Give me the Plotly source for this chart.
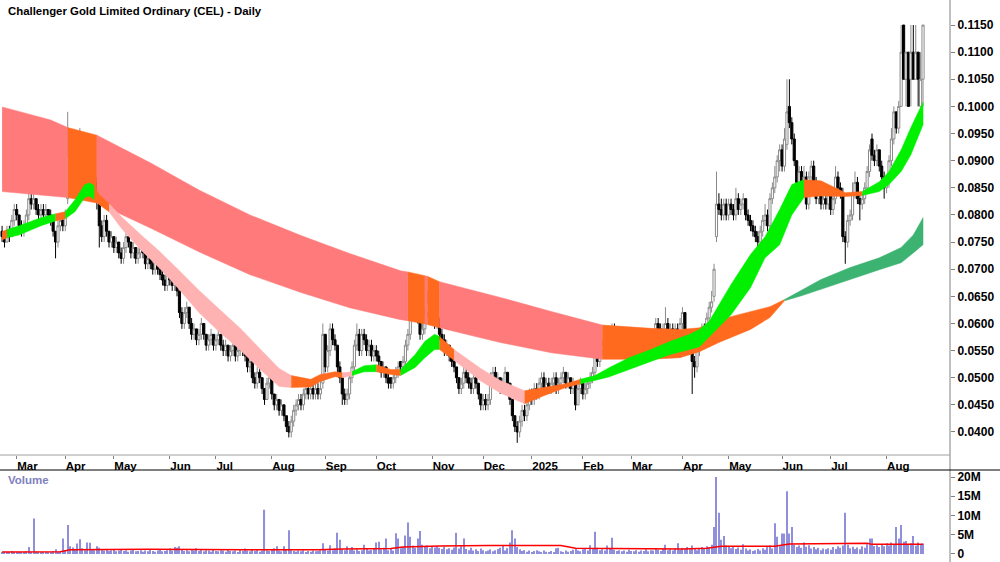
import pandas as pd
import plotly.graph_objects as go

TITLE = "Challenger Gold Limited Ordinary (CEL) - Daily"
FIRST_DAY = "2024-02-22"
LAST_DAY = "2025-08-22"
ASX_HOLIDAYS = ["2024-03-29", "2024-04-01", "2024-04-25", "2024-06-10", "2024-12-25",
                "2024-12-26", "2025-01-01", "2025-01-27", "2025-04-18", "2025-04-21",
                "2025-04-25", "2025-06-09"]

opens = [
    .077, .076, .075, .077, .076, .079, .081, .080, .078, .077,
    .078, .080, .083, .082, .083, .081, .080, .081, .080, .081,
    .080, .079, .077, .075, .078, .079, .078, .083, .091, .088,
    .092, .090, .093, .094, .091, .093, .087, .088, .085, .086,
    .082, .078, .076, .079, .077, .075, .076, .074, .075, .073,
    .072, .074, .076, .075, .073, .074, .072, .073, .075, .073,
    .071, .072, .071, .070, .072, .070, .069, .068, .067, .069,
    .068, .067, .068, .066, .062, .060, .062, .063, .060, .058,
    .059, .057, .058, .060, .058, .056, .057, .058, .056, .057,
    .058, .056, .055, .056, .054, .055, .056, .054, .055, .057,
    .055, .054, .052, .053, .050, .049, .051, .050, .048, .046,
    .049, .050, .047, .045, .046, .044, .045, .043, .041, .040,
    .042, .044, .045, .046, .045, .047, .048, .047, .048, .047,
    .048, .047, .049, .058, .052, .055, .059, .057, .056, .052,
    .050, .047, .046, .047, .050, .052, .056, .058, .055, .058,
    .057, .055, .056, .054, .055, .054, .053, .051, .052, .050,
    .050, .049, .050, .051, .053, .052, .053, .056, .058, .064,
    .062, .065, .061, .058, .059, .062, .064, .065, .061, .060,
    .061, .058, .057, .055, .056, .054, .053, .052, .050, .048,
    .049, .051, .050, .049, .048, .050, .049, .047, .045, .046,
    .045, .046, .050, .051, .049, .050, .048, .049, .051, .049,
    .046, .043, .041, .040, .042, .044, .043, .045, .047, .046,
    .048, .047, .049, .050, .048, .049, .048, .049, .050, .048,
    .049, .050, .051, .049, .050, .048, .049, .045, .048, .049,
    .047, .048, .049, .050, .051, .054, .053, .055, .056, .055,
    .057, .058, .059, .058, .056, .058, .057, .055, .056, .055,
    .057, .056, .055, .056, .054, .055, .054, .056, .055, .058,
    .060, .059, .057, .059, .060, .058, .059, .058, .059, .058,
    .060, .062, .057, .056, .057, .053, .052, .055, .057, .059,
    .058, .061, .063, .065, .076, .082, .081, .080, .082, .080,
    .082, .081, .080, .083, .081, .082, .083, .080, .079, .078,
    .077, .076, .075, .077, .079, .080, .078, .083, .085, .087,
    .090, .092, .089, .093, .100, .097, .094, .090, .086, .088,
    .085, .087, .082, .087, .089, .086, .083, .084, .082, .083,
    .082, .084, .081, .083, .087, .085, .084, .076, .075, .079,
    .080, .084, .086, .083, .082, .083, .085, .088, .094, .091,
    .090, .092, .089, .087, .085, .086, .090, .094, .099, .096,
    .100, .115, .105, .110, .105, .110, .105, .110, .100, .105,
]

highs = [
    .078, .077, .078, .078, .080, .082, .082, .080, .079, .079,
    .081, .084, .084, .084, .083, .082, .082, .082, .082, .081,
    .081, .079, .077, .079, .080, .080, .081, .099, .093, .094,
    .093, .095, .096, .095, .095, .094, .090, .089, .088, .087,
    .082, .079, .080, .080, .077, .077, .076, .076, .075, .074,
    .075, .077, .076, .075, .075, .074, .074, .076, .075, .073,
    .073, .073, .072, .073, .072, .071, .070, .069, .070, .069,
    .069, .069, .068, .066, .063, .063, .064, .063, .061, .060,
    .059, .059, .061, .060, .058, .058, .059, .058, .058, .059,
    .058, .057, .057, .056, .056, .057, .056, .056, .058, .057,
    .056, .054, .054, .053, .051, .052, .052, .050, .048, .050,
    .051, .050, .047, .047, .046, .046, .045, .043, .042, .043,
    .045, .046, .047, .047, .048, .049, .049, .049, .049, .049,
    .049, .050, .060, .058, .056, .060, .060, .058, .056, .053,
    .050, .048, .048, .051, .053, .057, .060, .059, .059, .059,
    .058, .057, .057, .056, .056, .055, .053, .053, .052, .051,
    .050, .051, .052, .053, .053, .054, .057, .059, .066, .065,
    .067, .066, .062, .061, .063, .066, .067, .066, .062, .062,
    .061, .059, .058, .057, .056, .055, .054, .052, .050, .050,
    .052, .052, .051, .050, .051, .051, .049, .047, .047, .047,
    .047, .051, .052, .052, .051, .050, .050, .052, .051, .049,
    .046, .043, .042, .043, .045, .045, .046, .048, .048, .049,
    .049, .050, .051, .051, .050, .050, .050, .051, .051, .050,
    .051, .052, .051, .051, .050, .050, .049, .049, .050, .049,
    .049, .050, .051, .052, .055, .055, .056, .057, .057, .058,
    .059, .060, .060, .058, .059, .059, .057, .057, .057, .058,
    .058, .057, .057, .056, .056, .056, .057, .057, .059, .061,
    .061, .060, .060, .063, .061, .060, .060, .060, .060, .061,
    .063, .062, .058, .058, .057, .054, .056, .058, .060, .060,
    .062, .064, .066, .071, .088, .084, .083, .083, .083, .083,
    .083, .082, .085, .084, .083, .084, .083, .081, .080, .079,
    .078, .077, .078, .080, .082, .081, .084, .086, .089, .091,
    .093, .093, .096, .105, .105, .098, .095, .090, .089, .089,
    .089, .088, .088, .090, .090, .087, .085, .085, .084, .084,
    .085, .084, .084, .089, .088, .086, .085, .077, .080, .081,
    .086, .088, .087, .084, .084, .086, .089, .093, .095, .092,
    .093, .092, .090, .088, .087, .091, .096, .100, .099, .101,
    .115, .115, .110, .110, .115, .115, .115, .110, .110, .115,
]

lows = [
    .075, .074, .075, .075, .076, .078, .079, .077, .076, .076,
    .077, .079, .081, .081, .080, .079, .079, .079, .079, .079,
    .078, .076, .072, .074, .077, .077, .077, .082, .086, .087,
    .089, .089, .091, .090, .089, .085, .085, .084, .083, .081,
    .074, .075, .075, .076, .074, .074, .073, .073, .072, .071,
    .071, .073, .074, .072, .072, .071, .071, .072, .072, .070,
    .070, .070, .069, .069, .069, .068, .067, .066, .066, .067,
    .066, .066, .065, .061, .059, .059, .061, .059, .057, .057,
    .056, .056, .057, .057, .055, .055, .056, .055, .055, .056,
    .055, .054, .054, .053, .053, .054, .053, .053, .054, .054,
    .053, .051, .051, .049, .048, .048, .049, .047, .045, .046,
    .048, .046, .044, .044, .043, .043, .042, .040, .039, .039,
    .041, .043, .044, .044, .044, .046, .046, .046, .046, .046,
    .046, .046, .048, .051, .051, .054, .056, .055, .051, .049,
    .045, .045, .045, .046, .049, .051, .055, .054, .054, .056,
    .054, .054, .053, .053, .053, .052, .050, .050, .049, .048,
    .048, .048, .049, .050, .051, .051, .052, .055, .057, .061,
    .061, .060, .057, .057, .058, .061, .063, .060, .059, .059,
    .057, .056, .054, .054, .053, .052, .051, .049, .047, .047,
    .048, .049, .048, .047, .047, .048, .046, .044, .044, .044,
    .044, .045, .049, .048, .048, .047, .047, .048, .048, .045,
    .042, .040, .038, .039, .041, .042, .042, .044, .045, .045,
    .046, .046, .048, .047, .047, .047, .047, .048, .047, .047,
    .048, .049, .048, .048, .047, .047, .044, .045, .047, .046,
    .046, .047, .048, .049, .050, .052, .052, .054, .054, .054,
    .056, .057, .057, .055, .055, .056, .054, .054, .054, .054,
    .055, .054, .054, .053, .053, .053, .053, .054, .054, .057,
    .058, .056, .056, .058, .057, .057, .057, .057, .057, .057,
    .059, .056, .055, .055, .047, .050, .051, .054, .056, .057,
    .058, .060, .062, .064, .075, .080, .079, .079, .079, .079,
    .080, .079, .079, .080, .080, .081, .079, .078, .077, .076,
    .075, .073, .074, .076, .078, .077, .077, .082, .084, .086,
    .088, .088, .088, .092, .096, .093, .089, .085, .085, .084,
    .084, .081, .081, .086, .085, .082, .082, .081, .081, .081,
    .081, .080, .080, .082, .084, .083, .075, .071, .074, .078,
    .079, .083, .082, .079, .081, .082, .084, .087, .090, .089,
    .089, .088, .086, .083, .084, .085, .089, .093, .095, .095,
    .100, .105, .100, .100, .100, .105, .105, .100, .100, .100,
]

closes = [
    .076, .075, .077, .076, .079, .081, .080, .078, .077, .078,
    .080, .083, .082, .083, .081, .080, .081, .080, .081, .080,
    .079, .077, .075, .078, .079, .078, .080, .091, .088, .092,
    .090, .093, .094, .091, .093, .087, .088, .085, .086, .083,
    .078, .076, .079, .077, .075, .076, .074, .075, .073, .072,
    .074, .076, .075, .073, .074, .072, .073, .075, .073, .071,
    .072, .071, .070, .072, .070, .069, .068, .067, .069, .068,
    .067, .068, .066, .062, .060, .062, .063, .060, .058, .059,
    .057, .058, .060, .058, .056, .057, .058, .056, .057, .058,
    .056, .055, .056, .054, .055, .056, .054, .055, .057, .055,
    .054, .052, .053, .050, .049, .051, .050, .048, .046, .049,
    .050, .047, .045, .046, .044, .045, .043, .041, .040, .042,
    .044, .045, .046, .045, .047, .048, .047, .048, .047, .048,
    .047, .048, .058, .052, .055, .059, .057, .056, .052, .050,
    .047, .046, .047, .050, .052, .056, .058, .055, .058, .057,
    .055, .056, .054, .055, .054, .053, .051, .052, .050, .049,
    .049, .050, .051, .052, .052, .053, .056, .058, .064, .062,
    .065, .061, .058, .059, .062, .064, .065, .061, .060, .061,
    .058, .057, .055, .056, .054, .053, .052, .050, .048, .049,
    .051, .050, .049, .048, .050, .049, .047, .045, .046, .045,
    .046, .050, .051, .049, .050, .048, .049, .051, .049, .046,
    .043, .041, .040, .042, .044, .043, .045, .047, .046, .048,
    .047, .049, .050, .048, .049, .048, .049, .050, .048, .049,
    .050, .051, .049, .050, .048, .049, .045, .048, .049, .047,
    .048, .049, .050, .051, .054, .053, .055, .056, .055, .057,
    .058, .059, .058, .056, .058, .057, .055, .056, .055, .057,
    .056, .055, .056, .054, .055, .054, .056, .055, .058, .060,
    .059, .057, .059, .060, .058, .059, .058, .059, .058, .060,
    .062, .057, .056, .057, .053, .052, .055, .057, .059, .058,
    .061, .063, .064, .070, .082, .081, .080, .082, .080, .082,
    .081, .080, .083, .081, .082, .083, .080, .079, .078, .077,
    .076, .075, .077, .079, .080, .078, .083, .085, .087, .090,
    .092, .089, .094, .099, .097, .094, .090, .086, .088, .085,
    .087, .082, .087, .089, .086, .083, .084, .082, .083, .082,
    .084, .081, .083, .087, .085, .084, .076, .075, .079, .080,
    .084, .086, .083, .082, .083, .085, .088, .092, .091, .090,
    .092, .089, .087, .085, .086, .090, .094, .099, .096, .100,
    .110, .105, .110, .100, .110, .105, .110, .105, .105, .115,
]

# daily volume, millions of shares
volume_m = [
    0.4, 0.6, 0.3, 0.5, 0.8, 0.4, 0.6, 0.3, 0.5, 0.4, 0.7, 1.8, 0.5, 9.2, 0.6, 0.4, 0.5, 0.3, 0.6, 0.4,
    0.5, 0.8, 1.2, 0.6, 0.7, 4.0, 1.0, 7.5, 2.0, 1.7, 1.2, 2.7, 3.8, 1.5, 1.0, 3.0, 2.9, 1.2, 1.0, 2.0,
    1.6, 1.2, 0.9, 1.1, 0.8, 1.0, 1.3, 0.7, 0.9, 1.1, 0.8, 1.0, 0.6, 0.9, 1.2, 0.7, 0.8, 1.0, 0.6, 0.9,
    0.7, 1.1, 0.8, 0.6, 0.9, 1.2, 0.7, 0.8, 1.0, 1.4, 0.9, 1.8, 1.6, 2.0, 1.2, 0.8, 1.0, 0.7, 1.3, 0.9,
    1.5, 0.8, 1.1, 0.7, 1.0, 0.9, 0.6, 1.2, 0.8, 0.7, 1.0, 0.9, 0.6, 1.1, 0.8, 0.7, 0.9, 0.5, 1.0, 0.8,
    1.4, 0.9, 0.7, 1.2, 0.8, 1.0, 0.6, 0.9, 11.5, 1.0, 0.8, 1.2, 1.5, 2.0, 0.9, 0.7, 2.0, 1.1, 6.2, 1.0,
    0.8, 0.6, 0.9, 0.7, 1.0, 0.5, 0.8, 0.6, 0.9, 0.7, 0.8, 1.0, 2.8, 1.2, 0.9, 2.3, 1.0, 1.4, 5.5, 3.7,
    1.2, 1.0, 2.0, 1.1, 1.8, 0.9, 1.2, 0.8, 1.0, 2.4, 1.3, 0.9, 1.1, 1.4, 3.0, 3.2, 1.2, 1.6, 4.0, 1.0,
    1.3, 0.9, 5.4, 4.0, 1.5, 1.8, 4.8, 8.2, 4.5, 2.2, 1.6, 4.0, 6.0, 2.4, 1.8, 2.2, 1.5, 2.0, 1.7, 2.1,
    1.6, 1.3, 1.9, 1.2, 1.5, 1.1, 1.7, 5.5, 1.4, 2.0, 4.0, 1.3, 1.0, 1.6, 0.9, 1.2, 0.8, 1.4, 1.0, 0.7,
    0.9, 1.2, 0.7, 1.0, 1.3, 1.6, 2.1, 0.9, 1.5, 3.0, 6.2, 4.0, 1.8, 1.2, 0.8, 1.0, 0.6, 0.9, 0.5, 0.8,
    1.0, 0.7, 0.5, 0.9, 0.6, 0.4, 0.8, 0.3, 1.5, 1.6, 0.7, 0.5, 0.9, 0.6, 0.8, 1.1, 1.3, 0.9, 0.7, 1.2,
    1.4, 0.9, 2.3, 1.3, 5.8, 1.6, 1.0, 1.2, 0.9, 2.2, 1.4, 4.2, 1.1, 0.8, 1.0, 0.7, 0.9, 0.6, 1.1, 0.8,
    0.7, 1.0, 0.6, 0.9, 0.8, 1.2, 0.7, 1.0, 0.9, 1.4, 1.1, 0.8, 1.3, 2.4, 1.0, 1.2, 0.9, 1.5, 2.8, 1.1,
    1.6, 1.3, 1.8, 1.2, 2.2, 1.5, 1.0, 1.4, 1.8, 1.3, 2.0, 1.6, 2.4, 7.0, 20.0, 10.7, 3.7, 4.7, 2.2, 1.8,
    1.5, 2.0, 1.3, 1.7, 1.1, 2.5, 1.4, 0.9, 1.2, 0.8, 1.0, 1.3, 0.9, 1.5, 1.1, 1.8, 2.2, 1.4, 8.0, 4.5,
    2.0, 5.3, 5.3, 16.3, 5.3, 7.0, 2.4, 1.8, 2.2, 1.6, 3.0, 1.9, 2.3, 1.4, 1.8, 1.2, 1.6, 1.0, 1.4, 1.2,
    1.5, 1.1, 1.8, 1.3, 2.0, 1.6, 2.2, 10.7, 2.4, 1.5, 1.9, 1.3, 1.7, 1.2, 2.0, 1.6, 2.5, 4.0, 4.0, 2.1,
    2.3, 1.8, 2.6, 2.0, 2.8, 2.2, 3.0, 2.4, 7.0, 4.0, 7.5, 3.2, 3.4, 2.6, 2.8, 4.7, 2.2, 3.0, 2.5, 2.7,
]

# volume moving average (millions), read at bar positions
vol_ma_idx = [0, 24, 28, 60, 100, 130, 140, 160, 165, 180, 200, 230, 236, 280, 290, 296, 318, 324, 356, 358, 379]
vol_ma_m = [0.5, 0.6, 1.1, 1.2, 1.1, 1.1, 1.3, 1.4, 1.8, 2.1, 2.2, 2.2, 1.5, 1.3, 1.5, 2.0, 2.0, 2.6, 2.8, 2.5, 2.5]

# long-term moving-average ribbon: bar index, top, bottom, colour of the following stretch
lt_idx = [0, 20, 27, 39, 61, 81, 102, 123, 143, 164, 167, 174, 175, 180, 205, 226, 247,
          267, 279, 287, 295, 308, 316, 322, 329, 337, 349, 361, 370, 375, 379]
lt_hi = [.0999, .0975, .0961, .0947, .0896, .0846, .0800, .0762, .0729, .0697, .0695, .0688, .0687,
         .0677, .0648, .0622, .0597, .0591, .0589, .0592, .0607, .0622, .0631, .0644, .0662, .0681,
         .0703, .0721, .0740, .0763, .0795]
lt_lo = [.0843, .0835, .0832, .0822, .0776, .0732, .0690, .0657, .0629, .0607, .0605, .0599, .0598,
         .0592, .0565, .0546, .0534, .0534, .0537, .0548, .0565, .0589, .0611, .0642, .0651, .0662,
         .0681, .0699, .0712, .0730, .0745]
lt_state = ["R", "R", "O", "R", "R", "R", "R", "R", "R", "R", "O", "R", "O", "R", "R", "R", "O",
            "O", "O", "O", "O", "O", "O", "D", "D", "D", "D", "D", "D", "D", "D"]

# short-term moving-average ribbon
st_idx = [0, 2, 7, 16, 22, 26, 30, 34, 36, 38, 40, 44, 49, 57, 65, 73, 81, 90, 98, 106, 114,
          119, 127, 131, 137, 140, 144, 149, 154, 160, 164, 170, 174, 178, 180, 186, 197, 205,
          215, 223, 232, 238, 244, 250, 258, 267, 275, 283, 287, 291, 300, 308, 314, 320, 325,
          330, 337, 347, 354, 361, 365, 370, 374, 379]
st_hi = [.0769, .0773, .0780, .0795, .0802, .0806, .0828, .0856, .0859, .0854, .0837, .0821, .0797,
         .0764, .0732, .0697, .0661, .0624, .0591, .0554, .0517, .0504, .0497, .0506, .0511, .0509,
         .0511, .0522, .0524, .0515, .0515, .0543, .0567, .0580, .0576, .0552, .0517, .0495, .0476,
         .0482, .0489, .0497, .0504, .0519, .0537, .0552, .0567, .0580, .0589, .0604, .0672, .0727,
         .0760, .0810, .0856, .0865, .0863, .0841, .0843, .0861, .0880, .0920, .0961, .1008]
st_lo = [.0754, .0758, .0763, .0780, .0789, .0793, .0806, .0832, .0835, .0828, .0819, .0806, .0776,
         .0736, .0701, .0662, .0620, .0582, .0551, .0516, .0484, .0482, .0483, .0493, .0502, .0500,
         .0504, .0511, .0511, .0506, .0504, .0519, .0537, .0552, .0552, .0532, .0494, .0472, .0452,
         .0467, .0482, .0489, .0495, .0502, .0515, .0530, .0543, .0552, .0557, .0574, .0616, .0666,
         .0721, .0745, .0800, .0832, .0835, .0834, .0836, .0843, .0856, .0880, .0911, .0966]
st_state = ["O", "G", "G", "G", "O", "G", "G", "G", "G", "O", "O", "P", "P", "P", "P", "P", "P",
            "P", "P", "P", "P", "O", "O", "O", "O", "P", "G", "G", "O", "O", "G", "G", "G", "G",
            "O", "P", "P", "P", "O", "O", "O", "G", "G", "G", "G", "G", "G", "G", "G", "G", "G",
            "G", "G", "G", "G", "O", "O", "O", "G", "G", "G", "G", "G", "G"]

price_ticks = [0.040, 0.045, 0.050, 0.055, 0.060, 0.065, 0.070, 0.075, 0.080, 0.085,
               0.090, 0.095, 0.100, 0.105, 0.110, 0.115]
vol_ticks = [0, 5, 10, 15, 20]
vol_tick_text = ["0", "5M", "10M", "15M", "20M"]

FILL = {"R": "#ff7b7b", "O": "#ff6a1f", "G": "#00f000", "P": "#ffb2b2", "D": "#3cb371"}

days = pd.bdate_range(FIRST_DAY, LAST_DAY)
days = days[~days.isin(pd.to_datetime(ASX_HOLIDAYS))]
n = min(len(days), len(opens), len(highs), len(lows), len(closes), len(volume_m))
xi = list(range(n))

tick_idx, tick_txt = [], []
for i in range(1, n):
    if days[i].month != days[i - 1].month:
        tick_idx.append(i)
        tick_txt.append(str(days[i].year) if days[i].month == 1 else days[i].strftime("%b"))

fig = go.Figure()


def add_ribbon(idx, hi, lo, state):
    m = len(idx)
    k = 0
    while k < m - 1:
        j = k
        while j + 1 < m - 1 and state[j + 1] == state[k]:
            j += 1
        xs = idx[k:j + 2] + idx[k:j + 2][::-1]
        ys = hi[k:j + 2] + lo[k:j + 2][::-1]
        fig.add_trace(go.Scatter(x=xs, y=ys, fill="toself", fillcolor=FILL[state[k]],
                                 mode="lines", line=dict(width=0.5, color=FILL[state[k]]),
                                 hoverinfo="skip"))
        k = j + 1


add_ribbon(lt_idx, lt_hi, lt_lo, lt_state)
add_ribbon(st_idx, st_hi, st_lo, st_state)

fig.add_trace(go.Candlestick(
    x=xi, open=opens[:n], high=highs[:n], low=lows[:n], close=closes[:n],
    increasing=dict(line=dict(color="#8a8a8a", width=1), fillcolor="#ffffff"),
    decreasing=dict(line=dict(color="#000000", width=1), fillcolor="#000000"),
    whiskerwidth=0, hoverinfo="skip"))

fig.add_trace(go.Bar(x=xi, y=volume_m[:n], xaxis="x2", yaxis="y2", width=0.45,
                     marker=dict(color="#8f8fdc", line=dict(width=0))))
fig.add_trace(go.Scatter(x=vol_ma_idx, y=vol_ma_m, xaxis="x2", yaxis="y2", mode="lines",
                         line=dict(color="#ff0000", width=1.5)))

FONT = "Liberation Sans, Arial, sans-serif"
BOLD = dict(family=FONT, size=12, color="#000000", weight="bold")
XBOLD = dict(family=FONT, size=11.5, color="#000000", weight="bold")
XR = [-0.86, 390.1]
P_BOTTOM = (562 - 455) / 562
V_TOP = (562 - 470) / 562

fig.update_layout(
    template="none", width=1000, height=562, margin=dict(l=0, r=0, t=0, b=0),
    paper_bgcolor="#ffffff", plot_bgcolor="#ffffff", showlegend=False, hovermode=False,
    boxgap=0.12, boxgroupgap=0,
    xaxis=dict(domain=[0, 0.95], range=XR, anchor="y", tickvals=tick_idx, ticktext=tick_txt,
               ticks="outside", ticklen=3, tickcolor="#808080", ticklabelposition="outside right",
               tickfont=XBOLD, showgrid=False, zeroline=False, showline=False,
               rangeslider=dict(visible=False), automargin=False),
    xaxis2=dict(domain=[0, 0.95], range=XR, anchor="y2", matches="x", showticklabels=False,
                ticks="", showgrid=False, zeroline=False, showline=False, automargin=False),
    yaxis=dict(domain=[P_BOTTOM, 1], range=[0.03576, 0.11961], side="right", anchor="x",
               tickvals=price_ticks, tickformat=".4f", ticks="outside", ticklen=4,
               tickcolor="#808080", tickfont=BOLD, showgrid=False, zeroline=False,
               showline=False, automargin=False),
    yaxis2=dict(domain=[0, V_TOP], range=[-2.08, 21.82], side="right", anchor="x2",
                tickvals=vol_ticks, ticktext=vol_tick_text, ticks="outside", ticklen=4,
                tickcolor="#808080", tickfont=BOLD, showgrid=False, zeroline=False,
                showline=False, automargin=False, ticklabeloverflow="allow"),
    shapes=[
        dict(type="line", xref="paper", yref="paper", x0=0.95, x1=0.95, y0=0, y1=1,
             line=dict(color="#808080", width=1)),
        dict(type="line", xref="paper", yref="paper", x0=0, x1=0.95, y0=P_BOTTOM, y1=P_BOTTOM,
             line=dict(color="#a0a0a0", width=1)),
        dict(type="line", xref="paper", yref="paper", x0=0, x1=1, y0=V_TOP, y1=V_TOP,
             line=dict(color="#000000", width=1)),
    ],
    annotations=[
        dict(text=TITLE, xref="paper", yref="paper", x=0.006, y=1 - 11 / 562, xanchor="left",
             yanchor="middle", showarrow=False,
             font=dict(family=FONT, size=11.4, color="#000000", weight="bold")),
        dict(text="Volume", xref="paper", yref="paper", x=0.006, y=1 - 480 / 562,
             xanchor="left", yanchor="middle", showarrow=False,
             font=dict(family=FONT, size=11.5, color="#8080c0", weight="bold")),
    ],
)

fig.write_html("out.html")
